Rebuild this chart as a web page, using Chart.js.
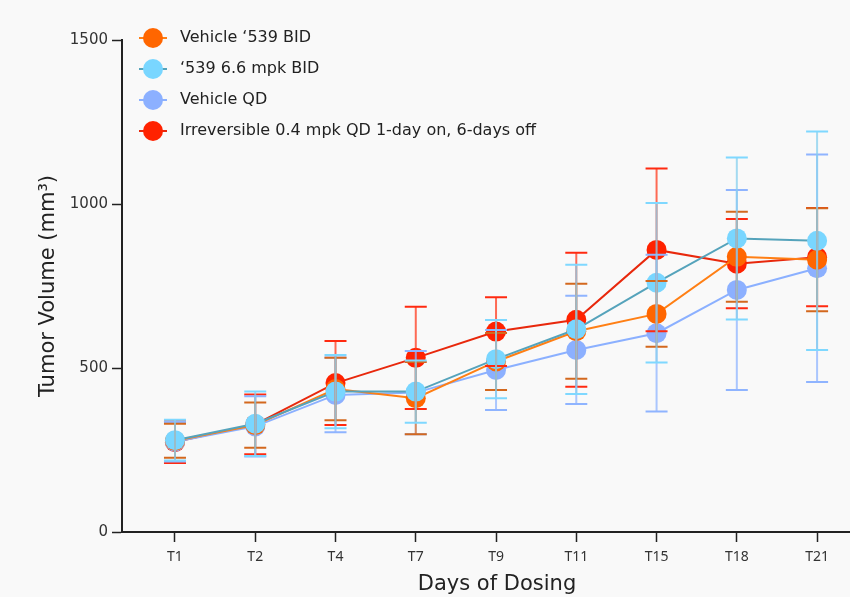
<!DOCTYPE html>
<html>
<head>
<meta charset="utf-8">
<script src="https://cdn.jsdelivr.net/npm/chart.js@4.4.1/dist/chart.umd.min.js"></script>
<style>
  html, body { margin: 0; padding: 0; background: #f9f9f9; overflow: hidden; }
  #wrap { width: 850px; height: 597px; position: relative; }
</style>
</head>
<body>
<div id="wrap"><canvas id="c"></canvas></div>
<script>
// ---- data ----
const categories = ['T1', 'T2', 'T4', 'T7', 'T9', 'T11', 'T15', 'T18', 'T21'];
const seriesNames = ['Vehicle \u2018539 BID', '\u2018539 6.6 mpk BID', 'Vehicle QD', 'Irreversible 0.4 mpk QD 1-day on, 6-days off'];

const vehicle539Mean = [278, 326, 436, 408, 520, 612, 665, 839, 830];
const vehicle539Err  = [52, 69, 95, 110, 87, 145, 100, 137, 157];

const mpk66Mean = [280, 330, 428, 428, 527, 618, 760, 895, 888];
const mpk66Err  = [62, 98, 112, 95, 119, 197, 243, 247, 333];

const vehicleQDMean = [275, 322, 418, 425, 494, 555, 606, 738, 804];
const vehicleQDErr  = [60, 92, 114, 127, 122, 165, 239, 305, 347];

const irrevMean = [274, 328, 454, 531, 611, 647, 860, 818, 838];
const irrevErr  = [64, 91, 128, 156, 105, 204, 248, 136, 150];

const yTicks = [0, 500, 1000, 1500];

// ---- styles ----
const FONT = '"DejaVu Sans", "Noto Sans", sans-serif';
const NARROW = '"Liberation Sans Narrow", "Noto Sans", sans-serif';
const styles = [
  { line: '#ff7f14', fill: '#ff6600', cap: '#d3681e', stem: '#e8782a', order: 1 },
  { line: '#55a3bb', fill: '#79d6ff', cap: '#7fd8ff', stem: '#86cfee', order: 0 },
  { line: '#8bb0ff', fill: '#8cb0ff', cap: '#8fb4ff', stem: '#8fb4ff', order: 2 },
  { line: '#e8280c', fill: '#ff2200', cap: '#ff2a10', stem: '#ff3a1c', order: 3 }
];
const means = [vehicle539Mean, mpk66Mean, vehicleQDMean, irrevMean];
const errs = [vehicle539Err, mpk66Err, vehicleQDErr, irrevErr];

function legendIcon(st) {
  const c = document.createElement('canvas');
  c.width = 30; c.height = 22;
  const g = c.getContext('2d');
  g.strokeStyle = st.line; g.lineWidth = 2;
  g.beginPath(); g.moveTo(1, 11); g.lineTo(29, 11); g.stroke();
  g.fillStyle = st.fill;
  g.beginPath(); g.arc(15, 11, 10, 0, Math.PI * 2); g.fill();
  return c;
}

const datasets = seriesNames.map((name, s) => ({
  label: name,
  data: means[s].map((v, i) => ({ x: i, y: v })),
  errors: errs[s],
  borderColor: styles[s].line,
  backgroundColor: styles[s].fill,
  pointBackgroundColor: styles[s].fill,
  pointBorderColor: styles[s].fill,
  pointBorderWidth: 0,
  pointRadius: 10,
  pointHoverRadius: 10,
  borderWidth: 2,
  tension: 0,
  order: styles[s].order,
  capColor: styles[s].cap,
  stemColor: styles[s].stem,
  legendImg: legendIcon(styles[s])
}));

const errorBars = {
  id: 'errorBars',
  afterDatasetsDraw(chart) {
    const ctx = chart.ctx;
    const xs = chart.scales.x, ys = chart.scales.y;
    const metas = chart.getSortedVisibleDatasetMetas();
    ctx.save();
    for (let k = metas.length - 1; k >= 0; k--) {
      const ds = chart.data.datasets[metas[k].index];
      ds.errors.forEach((e, i) => {
        const v = ds.data[i].y;
        const x = xs.getPixelForValue(ds.data[i].x);
        const yt = ys.getPixelForValue(v + e);
        const yb = ys.getPixelForValue(v - e);
        ctx.lineWidth = 2;
        ctx.strokeStyle = ds.stemColor;
        ctx.globalAlpha = 0.75;
        ctx.beginPath(); ctx.moveTo(x, yt); ctx.lineTo(x, yb); ctx.stroke();
        ctx.globalAlpha = 1;
        ctx.strokeStyle = ds.capColor;
        ctx.beginPath();
        ctx.moveTo(x - 11, yt); ctx.lineTo(x + 11, yt);
        ctx.moveTo(x - 11, yb); ctx.lineTo(x + 11, yb);
        ctx.stroke();
      });
    }
    ctx.restore();
  }
};

const LEG_PAD = 15, LEG_FS = 16, LEG_BOX = 38;
const layoutTweak = {
  id: 'layoutTweak',
  afterLayout(chart) {
    const l = chart.legend;
    if (l) {
      l.top = 38 - LEG_PAD - LEG_FS / 2;
      l.left = 153 - LEG_PAD - LEG_BOX / 2;
      l.bottom = l.top + 220;
      l.right = l.left + 600;
    }
    // the original plot runs past the right edge of the picture: extend the x-axis box
    const xs = chart.scales.x;
    xs.right = xs.left + 750;
    xs.width = 750;
  }
};

new Chart(document.getElementById('c'), {
  type: 'line',
  data: { datasets },
  plugins: [errorBars, layoutTweak],
  options: {
    responsive: true,
    maintainAspectRatio: false,
    animation: false,
    layout: { autoPadding: false, padding: { top: 40, right: 0, bottom: 0, left: 0 } },
    plugins: {
      tooltip: { enabled: false },
      legend: {
        position: 'chartArea',
        align: 'start',
        labels: {
          usePointStyle: true,
          pointStyleWidth: LEG_BOX,
          padding: LEG_PAD,
          color: '#222',
          font: { family: FONT, size: LEG_FS },
          sort: (a, b) => a.datasetIndex - b.datasetIndex,
          generateLabels: (chart) => Chart.defaults.plugins.legend.labels.generateLabels(chart).map(it => {
            it.pointStyle = chart.data.datasets[it.datasetIndex].legendImg;
            return it;
          })
        }
      }
    },
    scales: {
      x: {
        type: 'linear',
        min: -0.66,
        max: 8.41,
        afterFit: (s) => { s.height = 65; },
        afterBuildTicks: (s) => { s.ticks = categories.map((_, i) => ({ value: i })); },
        ticks: {
          autoSkip: false,
          maxRotation: 0,
          padding: 7,
          color: '#333',
          font: { family: NARROW, size: 14 },
          callback: (v) => categories[v] ?? ''
        },
        grid: { drawOnChartArea: false, drawTicks: true, tickLength: 10, color: '#222', tickWidth: 1.5 },
        border: { display: true, color: '#222', width: 2 },
        title: { display: true, text: 'Days of Dosing', color: '#222', font: { family: FONT, size: 21 }, padding: { top: 0, bottom: 0 } }
      },
      y: {
        min: 0,
        max: 1500,
        afterFit: (s) => { s.width = 122; },
        afterBuildTicks: (s) => { s.ticks = yTicks.map(v => ({ value: v })); },
        ticks: { padding: 4, color: '#333', font: { family: FONT, size: 15 }, callback: (v) => String(v) },
        grid: { drawOnChartArea: false, drawTicks: true, tickLength: 10, color: '#222', tickWidth: 1.5 },
        border: { display: true, color: '#222', width: 2 },
        title: { display: true, text: 'Tumor Volume (mm\u00B3)', color: '#222', font: { family: FONT, size: 21 }, padding: { top: 36, bottom: 0 } }
      }
    }
  }
});
</script>
</body>
</html>
